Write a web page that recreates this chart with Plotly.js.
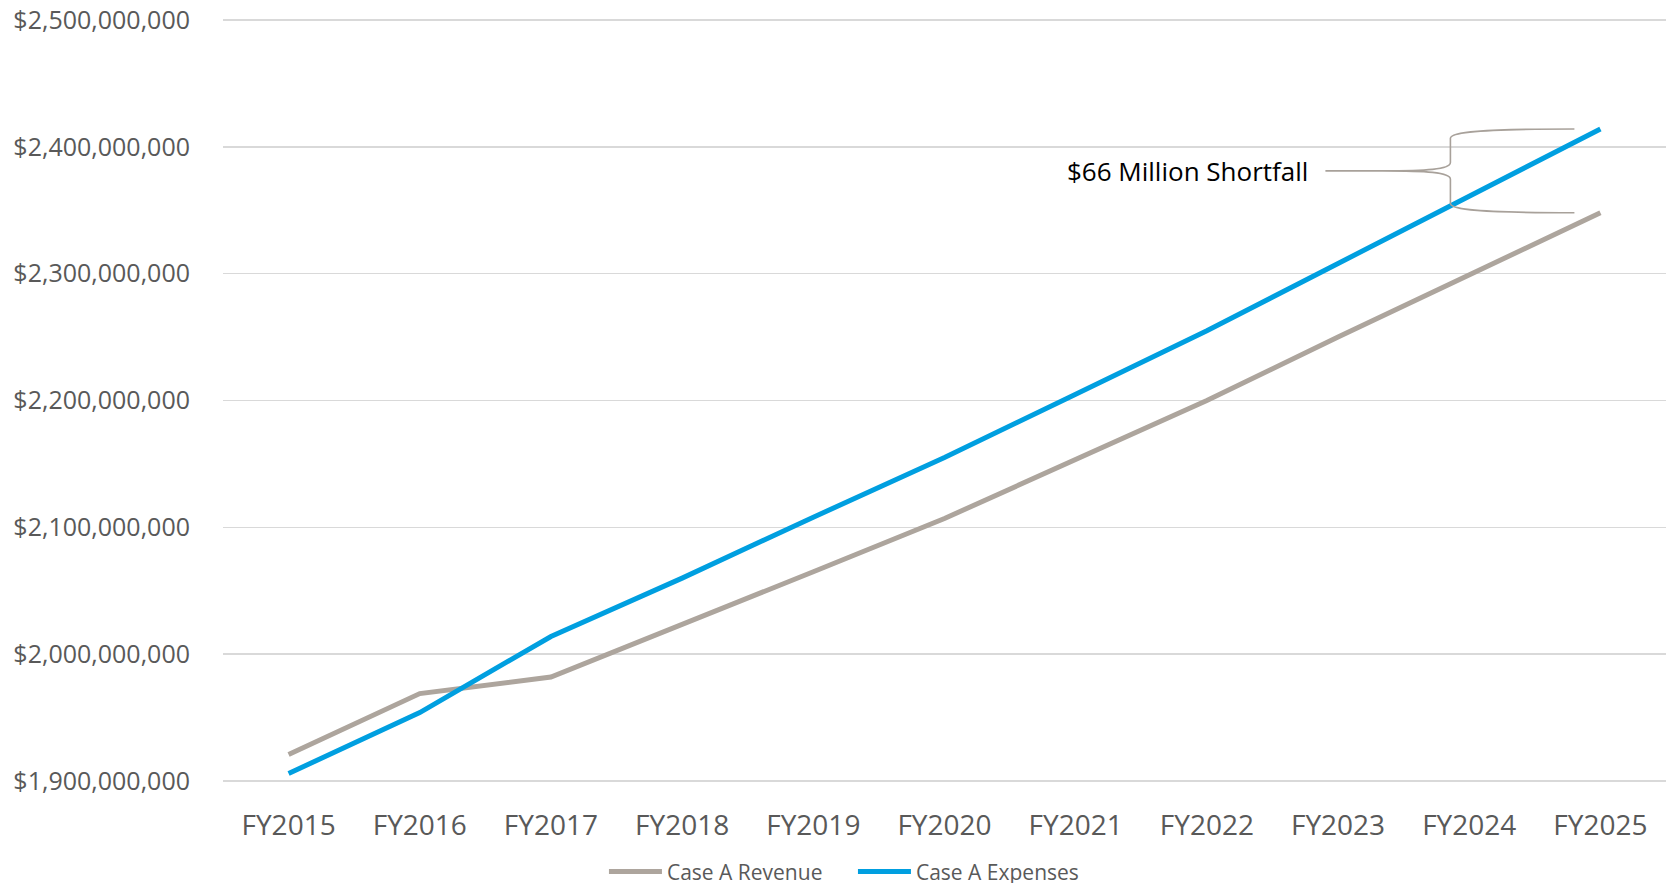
<!DOCTYPE html>
<html>
<head>
<meta charset="utf-8">
<script src="https://cdn.plot.ly/plotly-3.0.1.min.js"></script>
<style>html,body{margin:0;padding:0;background:#fff;}#chart{width:1675px;height:883px;}</style>
</head>
<body>
<div id="chart"></div>
<script>
// ---- data ----
const categories = ["FY2015","FY2016","FY2017","FY2018","FY2019","FY2020","FY2021","FY2022","FY2023","FY2024","FY2025"];
const revenue  = [1921e6, 1969e6, 1982e6, 2023e6, 2065e6, 2107e6, 2153e6, 2200e6, 2250e6, 2299e6, 2348e6];
const expenses = [1906e6, 1954e6, 2014e6, 2060e6, 2108e6, 2155e6, 2205e6, 2255e6, 2308e6, 2361e6, 2414e6];
const seriesNames = ["Case A Revenue", "Case A Expenses"];
const annotationText = "$66 Million Shortfall";

// ---- styles ----
const grayLine = "#ADA59D";
const blueLine = "#009FE0";
const textGray = "#595959";
const fontFam = "Open Sans, Noto Sans, sans-serif";

const lastIdx = categories.length - 1;
const yTop = expenses[lastIdx], yBot = revenue[lastIdx];
const yMid = (yTop + yBot) / 2, dh = (yTop - yBot) / 2;
const fmt = v => v.toFixed(0);
// brace path: x in pixels relative to last category, y in data values
const bracePath =
  `M -275,${fmt(yMid)} L -218,${fmt(yMid)} ` +
  `M -218,${fmt(yMid)} C -175,${fmt(yMid)} -150,${fmt(yMid + 0.03*dh)} -150,${fmt(yMid + 0.2*dh)} ` +
  `L -150,${fmt(yMid + 0.78*dh)} C -150,${fmt(yMid + 0.93*dh)} -120,${fmt(yTop)} -26,${fmt(yTop)} ` +
  `M -218,${fmt(yMid)} C -175,${fmt(yMid)} -150,${fmt(yMid - 0.03*dh)} -150,${fmt(yMid - 0.2*dh)} ` +
  `L -150,${fmt(yMid - 0.78*dh)} C -150,${fmt(yMid - 0.93*dh)} -120,${fmt(yBot)} -26,${fmt(yBot)}`;

const traces = [
  {x: categories, y: revenue, name: seriesNames[0], type: "scatter", mode: "lines",
   line: {color: grayLine, width: 5}},
  {x: categories, y: expenses, name: seriesNames[1], type: "scatter", mode: "lines",
   line: {color: blueLine, width: 5}}
];

const layout = {
  width: 1675, height: 883,
  margin: {l: 223, r: 9, t: 18, b: 100, pad: 0, autoexpand: false},
  paper_bgcolor: "#fff", plot_bgcolor: "#fff",
  font: {family: fontFam, color: textGray},
  showlegend: true,
  legend: {orientation: "h", x: 0.264, xanchor: "left", y: -0.116, yanchor: "middle",
           font: {family: fontFam, size: 21, color: textGray}, itemwidth: 53, entrywidth: 181},
  xaxis: {type: "category", range: [-0.5, categories.length - 0.5],
          showgrid: false, zeroline: false, showline: false,
          ticks: "outside", ticklen: 17, tickcolor: "rgba(0,0,0,0)",
          tickfont: {family: fontFam, size: 28, color: textGray}},
  yaxis: {range: [1.8985e9, 2.5015e9], dtick: 1e8, tick0: 0, tickprefix: "$", tickformat: ",.0f",
          showgrid: true, gridcolor: "#D9D9D9", gridwidth: 1.5, zeroline: false, showline: false,
          ticks: "outside", ticklen: 27, tickcolor: "rgba(0,0,0,0)",
          tickfont: {family: fontFam, size: 25, color: textGray}},
  shapes: [{
    type: "path", xref: "x", yref: "y", xsizemode: "pixel", xanchor: categories[lastIdx],
    path: bracePath, line: {color: "#A8A19A", width: 1.6}, layer: "above"
  }],
  annotations: [{
    xref: "x", yref: "y", x: categories[lastIdx], y: yMid, xanchor: "right", yanchor: "middle",
    xshift: -290, text: annotationText, showarrow: false,
    font: {family: fontFam, size: 26, color: "#000"}
  }],
  hovermode: false
};

Plotly.newPlot("chart", traces, layout, {staticPlot: true, displayModeBar: false});
</script>
</body>
</html>
